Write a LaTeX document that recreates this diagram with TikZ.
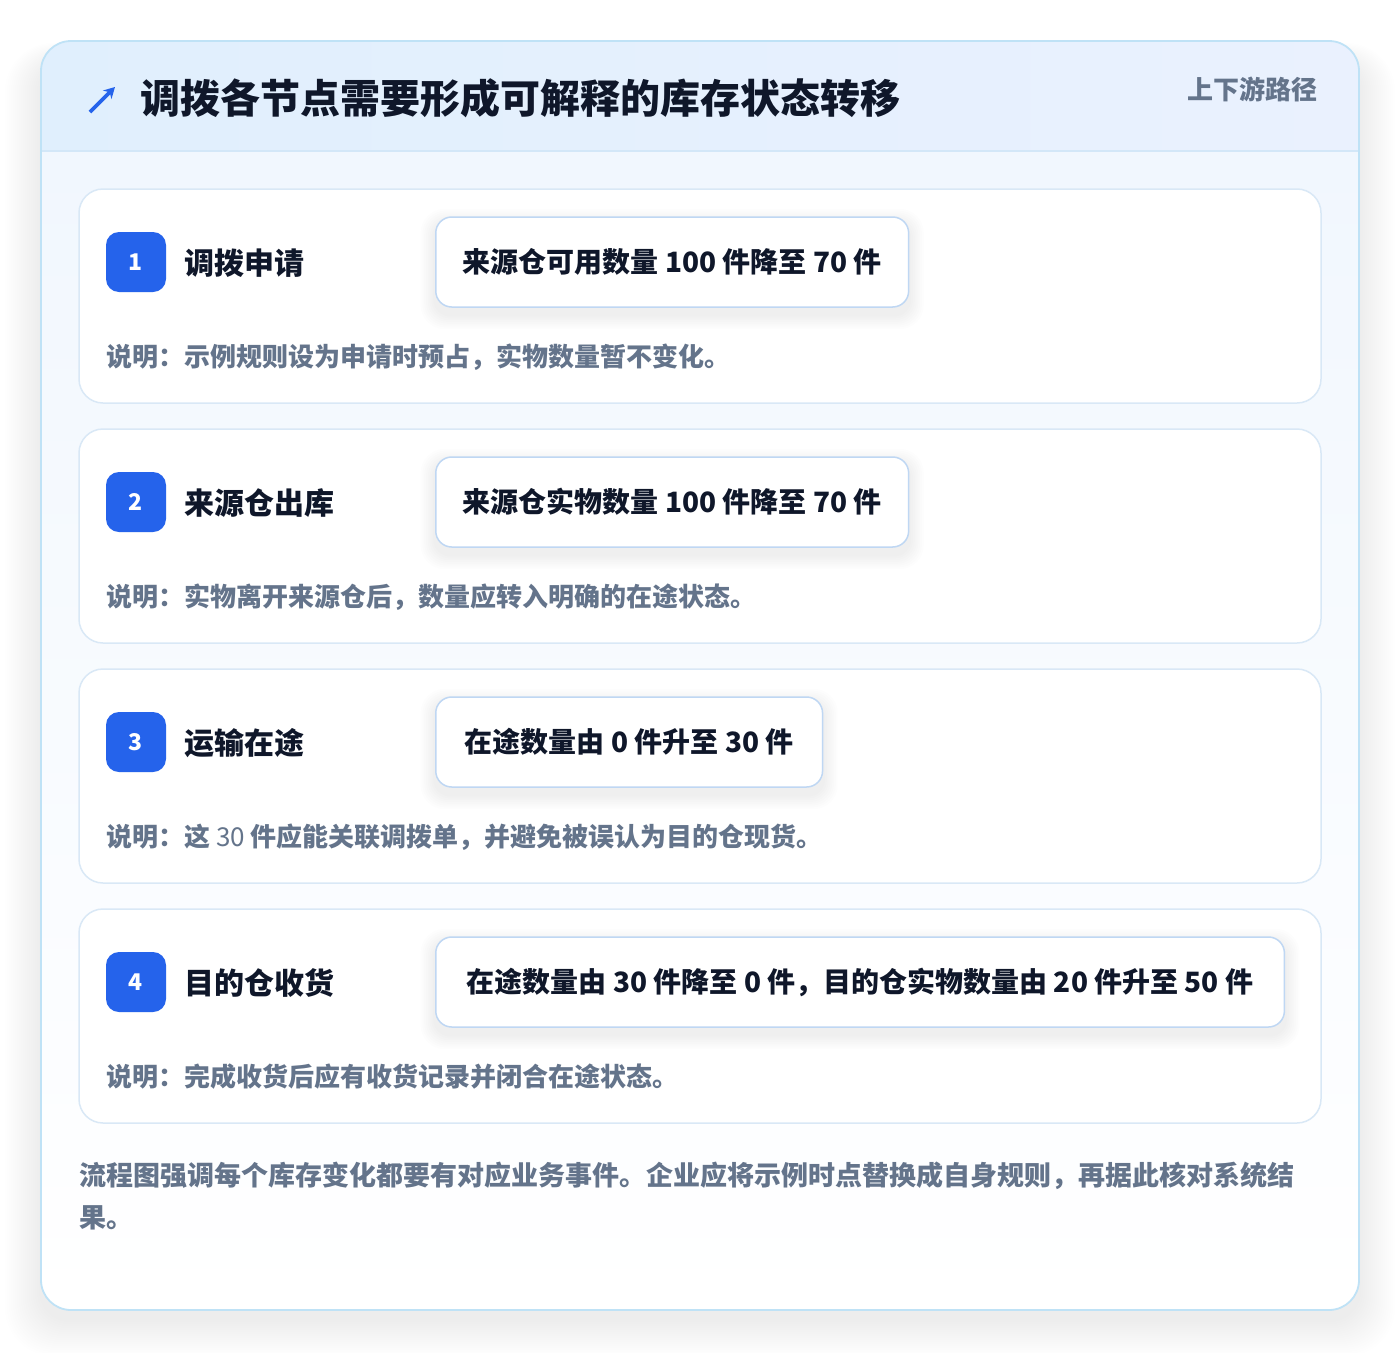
\documentclass[tikz,border=0pt]{standalone}
\usepackage{fontspec}
\setmainfont{Noto Sans CJK SC}
\usetikzlibrary{arrows.meta,calc}
\definecolor{badgeblue}{HTML}{2563EB}
\definecolor{darktext}{HTML}{0F172A}
\definecolor{graytext}{HTML}{64748B}
\definecolor{outerline}{HTML}{BFE2F6}
\definecolor{hdrA}{HTML}{E0EFFD}
\definecolor{hdrB}{HTML}{EAF1FE}
\definecolor{hdrline}{HTML}{D3E7F8}
\definecolor{bodytop}{HTML}{F1F7FE}
\definecolor{cardline}{HTML}{D9E8F6}
\definecolor{boxline}{HTML}{BFD7F3}
\pgfdeclarelayer{cardlayer}
\pgfdeclarelayer{shadowlayer}
\pgfsetlayers{cardlayer,shadowlayer,main}
\newcommand{\fsz}[2]{\fontsize{#1}{#2}\selectfont}
\tikzset{
  stepcard/.style={draw=cardline, line width=1.5pt, fill=white, rounded corners=24pt,
    minimum width=1242pt, minimum height=214pt, inner sep=0pt},
  badge/.style={fill=badgeblue, rounded corners=13pt, minimum width=60pt, minimum height=60pt,
    inner sep=0pt, text=white, font=\fsz{23}{27}\bfseries},
  steptitle/.style={anchor=west, inner sep=0pt, text=darktext, font=\fsz{30}{36}\bfseries},
  statebox/.style={anchor=west, draw=boxline, line width=1.5pt, fill=white, rounded corners=16pt,
    minimum height=90pt, inner xsep=27pt, inner ysep=0pt, text=darktext, font=\fsz{28}{34}\bfseries},
  desc/.style={anchor=west, inner sep=0pt, text=graytext, font=\fsz{26}{32}\bfseries},
}
\newcommand{\boxshadow}[1]{%
  \begin{pgfonlayer}{shadowlayer}
  \foreach \k in {1,...,8}{
    \fill[black, opacity=0.0065, rounded corners={16pt+\k pt}]
      ($(#1.south west)+(-\k*1.8,\k*1.8+7)$) rectangle ($(#1.north east)+(\k*1.8,-\k*1.8+7)$);
  }
  \end{pgfonlayer}}
\begin{document}
\begin{tikzpicture}[x=1pt,y=-1pt]
\begin{pgfonlayer}{cardlayer}
\useasboundingbox (0,0) rectangle (1400,1352);
\fill[white] (0,0) rectangle (1400,1352);
% outer shadow
\foreach \i in {1,...,18}{
  \fill[black, opacity=0.0048, rounded corners={30pt+\i pt}]
    (41-\i*2, 41-\i*1.0+20) rectangle (1359+\i*2, 1310+\i*2+10);
}
\begin{scope}
  \clip[rounded corners=30pt] (41,41) rectangle (1359,1310);
  \shade[top color=bodytop, bottom color=white] (41,151) rectangle (1359,1310);
  \shade[left color=hdrA, right color=hdrB] (41,41) rectangle (1359,151);
\end{scope}
\draw[hdrline, line width=1.5pt] (41,151) -- (1359,151);
\node[draw=outerline, line width=1.8pt, rounded corners=30pt, minimum width=1318pt,
  minimum height=1269pt, inner sep=0pt] (outer) at (700,675.5) {};
% step cards
\node[stepcard] (c1) at (700,296) {};
\node[stepcard] (c2) at (700,536) {};
\node[stepcard] (c3) at (700,776) {};
\node[stepcard] (c4) at (700,1016) {};
\end{pgfonlayer}

% header
\coordinate (arrA) at (90,112);
\coordinate (arrB) at (115,87);
\draw[badgeblue, line width=3.6pt, -{Stealth[length=11pt,width=12pt]}] (arrA) -- (arrB);
\node[anchor=west, inner sep=0pt, text=darktext, font=\fsz{40}{48}\bfseries] (title) at (140,98)
  {调拨各节点需要形成可解释的库存状态转移};
\node[anchor=east, inner sep=0pt, text=graytext, font=\fsz{26}{32}\bfseries] (tag) at (1318,89)
  {上下游路径};

% step 1
\node[badge] (b1) at (136,262) {1};
\node[steptitle] (t1) at (184,263) {调拨申请};
\node[statebox] (s1) at (435,262) {来源仓可用数量 100 件降至 70 件};
\boxshadow{s1}
\node[desc] (d1) at (106,357) {说明：示例规则设为申请时预占，实物数量暂不变化。};

% step 2
\node[badge] (b2) at (136,502) {2};
\node[steptitle] (t2) at (184,503) {来源仓出库};
\node[statebox] (s2) at (435,502) {来源仓实物数量 100 件降至 70 件};
\boxshadow{s2}
\node[desc] (d2) at (106,597) {说明：实物离开来源仓后，数量应转入明确的在途状态。};

% step 3
\node[badge] (b3) at (136,742) {3};
\node[steptitle] (t3) at (184,743) {运输在途};
\node[statebox, inner xsep=29pt] (s3) at (435,742) {在途数量由 0 件升至 30 件};
\boxshadow{s3}
\node[desc] (d3) at (106,837) {说明：这 {\mdseries 30} 件应能关联调拨单，并避免被误认为目的仓现货。};

% step 4
\node[badge] (b4) at (136,982) {4};
\node[steptitle] (t4) at (184,983) {目的仓收货};
\node[statebox, inner xsep=31pt] (s4) at (435,982) {在途数量由 30 件降至 0 件，目的仓实物数量由 20 件升至 50 件};
\boxshadow{s4}
\node[desc] (d4) at (106,1077) {说明：完成收货后应有收货记录并闭合在途状态。};

% footer
\node[anchor=west, align=left, inner sep=0pt, text=graytext, font=\fsz{27}{42}\bfseries] (foot) at (79,1196)
  {流程图强调每个库存变化都要有对应业务事件。企业应将示例时点替换成自身规则，再据此核对系统结\\果。};
\end{tikzpicture}
\end{document}
